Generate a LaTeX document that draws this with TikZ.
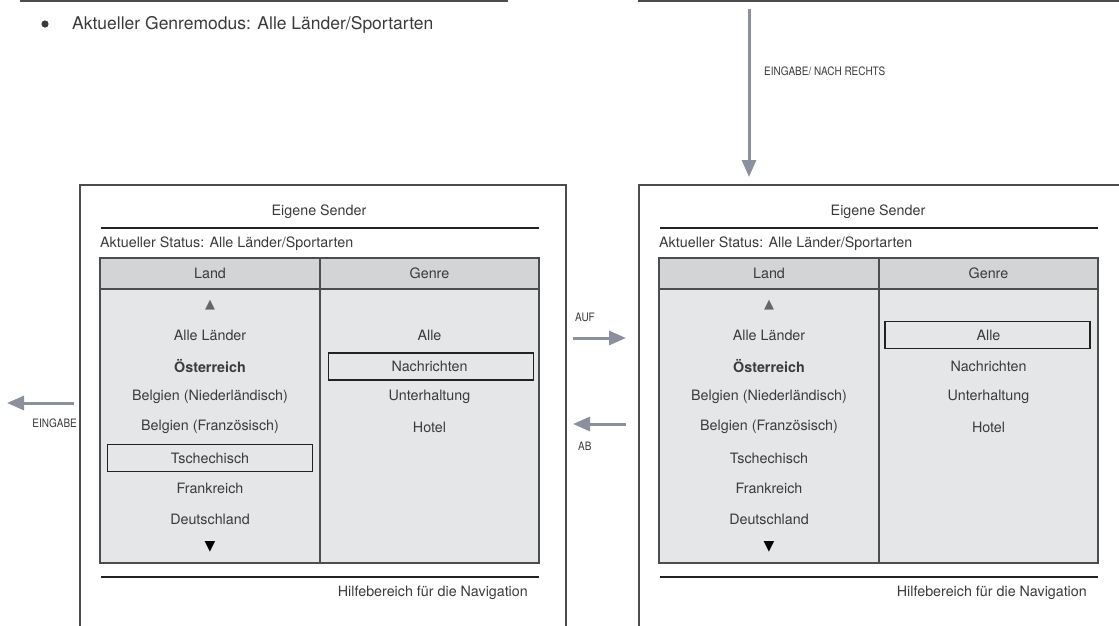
\documentclass[tikz,border=0pt]{standalone}
\usepackage{fontspec}
\setmainfont{TeX Gyre Heros}
\newfontfamily\symfont{DejaVu Sans}
\newfontfamily\condfont{TeX Gyre Heros}[FakeStretch=0.86]
\usetikzlibrary{arrows.meta}
\definecolor{txt}{HTML}{3A3A3A}
\definecolor{frame}{HTML}{4D4D4D}
\definecolor{hdrfill}{HTML}{D3D4D6}
\definecolor{bodyfill}{HTML}{E5E6E8}
\definecolor{arrowgray}{HTML}{8A909C}
\definecolor{rule}{HTML}{222222}

\newcommand\senderpanel[3]{% #1 prefix, #2 xshift, #3 selection code
\begin{scope}[shift={(#2,0)}]
  \draw[panelframe] (80,640) -- (80,185) -- (566,185) -- (566,640);
  \node[ptext] (#1-title) at (319,212) {Eigene Sender};
  \draw[thickrule] (101,228) -- (539,228);
  \node[ptext,anchor=west] (#1-status) at (100,244) {Aktueller Status: Alle Länder/Sportarten};
  \path[fill=hdrfill] (100,258) rectangle (539,289);
  \path[fill=bodyfill] (100,289) rectangle (539,563);
  \draw[tableframe] (100,258) rectangle (539,563);
  \draw[tableframe] (100,289) -- (539,289);
  \draw[tableframe] (320,258) -- (320,563);
  \node[ptext] (#1-land) at (210,273.5) {Land};
  \node[ptext] (#1-genre) at (429.5,273.5) {Genre};
  \node[font=\symfont\fontsize{13}{15}\selectfont,text=black!60] (#1-up) at (210,305) {▲};
  \node[ptext] (#1-l1) at (210,335) {Alle Länder};
  \node[ptext,font=\bfseries\fontsize{14.3}{16}\selectfont] (#1-l2) at (210,366) {Österreich};
  \node[ptext] (#1-l3) at (210,397) {Belgien (Niederländisch)};
  \node[ptext] (#1-l4) at (210,427) {Belgien (Französisch)};
  \node[ptext] (#1-l5) at (210,458) {Tschechisch};
  \node[ptext] (#1-l6) at (210,488) {Frankreich};
  \node[ptext] (#1-l7) at (210,519) {Deutschland};
  \node[font=\symfont\fontsize{14}{16}\selectfont,text=black] (#1-down) at (210,547) {▼};
  \node[ptext] (#1-g1) at (429.5,335) {Alle};
  \node[ptext] (#1-g2) at (429.5,366) {Nachrichten};
  \node[ptext] (#1-g3) at (429.5,397) {Unterhaltung};
  \node[ptext] (#1-g4) at (429.5,427) {Hotel};
  #3
  \draw[thickrule] (101,577) -- (539,577);
  \node[ptext,anchor=east] (#1-help) at (528,593) {Hilfebereich für die Navigation};
\end{scope}}

\begin{document}
\begin{tikzpicture}[x=1pt,y=-1pt,
  every node/.style={inner sep=0pt,text=txt},
  ptext/.style={font=\fontsize{14.3}{16}\selectfont},
  small/.style={font=\condfont\fontsize{11.6}{13}\selectfont},
  panelframe/.style={draw=frame,line width=1.4pt},
  tableframe/.style={draw=frame,line width=1.1pt},
  thickrule/.style={draw=rule,line width=2.6pt},
  selbox/.style={draw=rule,line width=1.3pt,minimum width=205pt,minimum height=27pt},
  navarrow/.style={draw=arrowgray,line width=3pt,-{Triangle[length=17pt,width=14pt]}}
]
\useasboundingbox (0,0) rectangle (1119,625);
\clip (0,0) rectangle (1119,625);

% top boxes (cut off)
\draw[panelframe] (21,-20) -- (21,1) -- (507,1) -- (507,-20);
\draw[panelframe] (639,-20) -- (639,1) -- (1140,1);

% bullet
\fill[txt] (45,24) circle (3.6pt);
\node[anchor=west,font=\fontsize{17.5}{20}\selectfont] (mode) at (72,25) {Aktueller Genremodus: Alle Länder/Sportarten};

% panels
\senderpanel{L}{0}{%
  \node[selbox] (L-selL) at (L-l5) {};
  \node[selbox] (L-selG) at (431,366.5) {};
}
\senderpanel{R}{559}{%
  \node[selbox] (R-selG) at (428.5,335) {};
}

% connectors
\coordinate (downS) at (749,9);
\coordinate (downE) at (749,177);
\draw[navarrow] (downS) -- (downE);
\node[small,anchor=west] (lblDown) at (764,71) {EINGABE/ NACH RECHTS};

\coordinate (aufS) at (573,338);
\coordinate (aufE) at (626,338);
\draw[navarrow] (aufS) -- (aufE);
\node[small,anchor=west] (lblAuf) at (575,317) {AUF};

\coordinate (abS) at (626,424);
\coordinate (abE) at (573,424);
\draw[navarrow] (abS) -- (abE);
\node[small,anchor=west] (lblAb) at (578,446) {AB};

\coordinate (einS) at (74,403);
\coordinate (einE) at (7,403);
\draw[navarrow] (einS) -- (einE);
\node[small,anchor=east] (lblEin) at (77,423) {EINGABE};
\end{tikzpicture}
\end{document}
